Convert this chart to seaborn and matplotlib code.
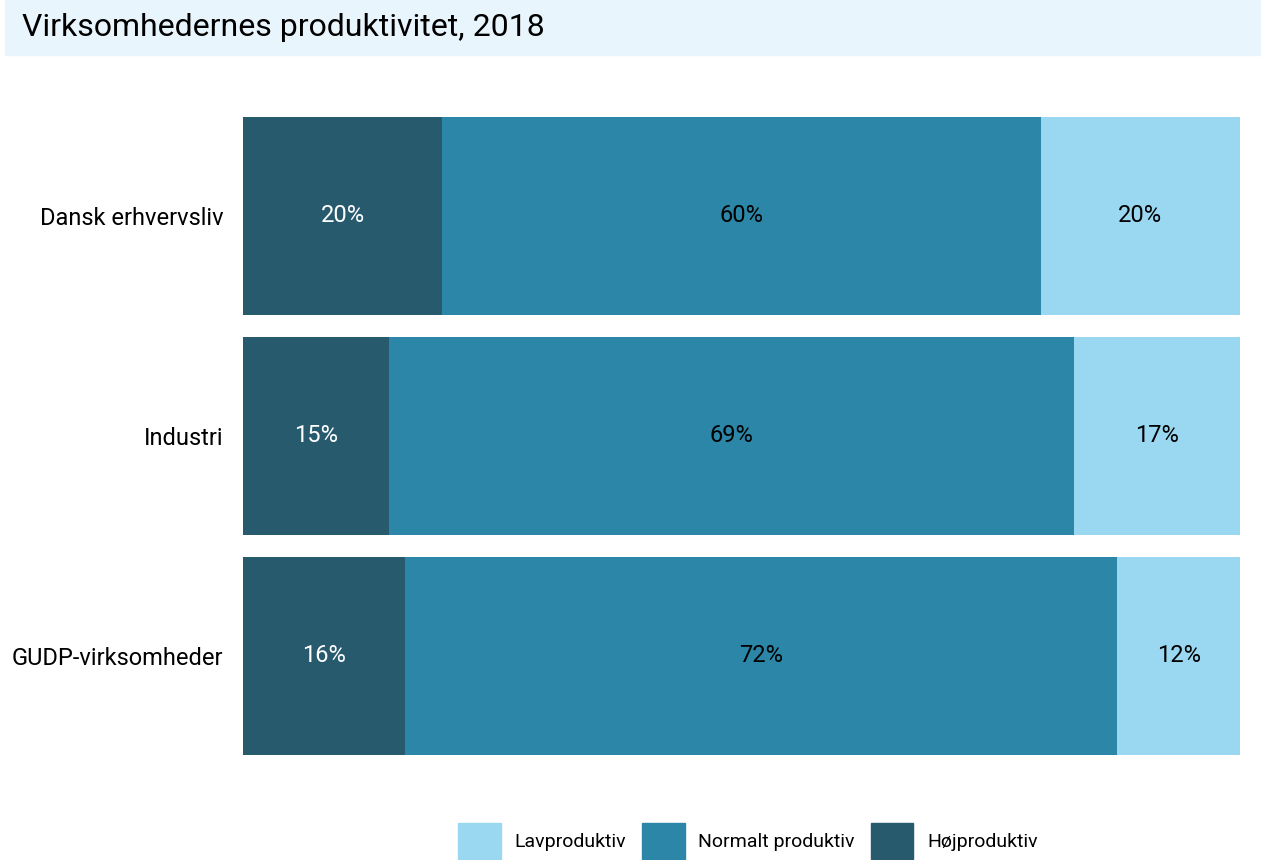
import matplotlib
matplotlib.use("Agg")
import matplotlib.pyplot as plt
from matplotlib.patches import Patch, Rectangle
import numpy as np
import pandas as pd
import seaborn as sns

# data (shares in %)
categories = ["Dansk erhvervsliv", "Industri", "GUDP-virksomheder"]
hoej = [20.0, 14.6, 16.2]
normal = [60.0, 68.8, 71.5]
lav = [20.0, 16.6, 12.3]
labels_hoej = ["20%", "15%", "16%"]
labels_normal = ["60%", "69%", "72%"]
labels_lav = ["20%", "17%", "12%"]

C_LAV = "#9AD8F2"
C_NORMAL = "#2B86A8"
C_HOEJ = "#285A6E"

sns.set_theme(style="white")
plt.rcParams["font.family"] = ["Roboto", "DejaVu Sans"]

df = pd.DataFrame({"cat": categories, "hoej": hoej, "normal": normal, "lav": lav})
df["c1"] = df["hoej"]
df["c2"] = df["hoej"] + df["normal"]
df["c3"] = df["c2"] + df["lav"]

fig = plt.figure(figsize=(12.61, 8.60), dpi=100)
ax = fig.add_axes([243 / 1261, 1 - 766 / 860, (1240 - 243) / 1261, 660 / 860])

# stacked bars drawn as overlapping cumulative bars
for col, color in [("c3", C_LAV), ("c2", C_NORMAL), ("c1", C_HOEJ)]:
    sns.barplot(data=df, x=col, y="cat", orient="h", color=color, width=0.9,
                saturation=1, ax=ax, linewidth=0)

for i in range(len(df)):
    r = df.iloc[i]
    ax.text(r["hoej"] / 2, i, labels_hoej[i], ha="center", va="center",
            color="white", fontsize=17)
    ax.text(r["hoej"] + r["normal"] / 2, i, labels_normal[i], ha="center",
            va="center", color="black", fontsize=17)
    ax.text(r["c2"] + r["lav"] / 2, i, labels_lav[i], ha="center", va="center",
            color="black", fontsize=17)

ax.set_xlim(0, df["c3"].max())
ax.set_ylim(2.5, -0.5)
ax.set_xlabel("")
ax.set_ylabel("")
ax.set_xticks([])
ax.tick_params(axis="y", length=0, pad=14, labelsize=17, labelcolor="black")
for s in ax.spines.values():
    s.set_visible(False)

# title band
fig.patches.append(Rectangle((5 / 1261, 1 - 55 / 860), 1, 55 / 860,
                             transform=fig.transFigure, color="#E8F5FC", zorder=0))
fig.text(22 / 1261, 1 - 28 / 860, "Virksomhedernes produktivitet, 2018",
         fontsize=23, va="center", ha="left", color="black")

handles = [Patch(color=C_LAV, label="Lavproduktiv"),
           Patch(color=C_NORMAL, label="Normalt produktiv"),
           Patch(color=C_HOEJ, label="Højproduktiv")]
fig.legend(handles=handles, loc="center", bbox_to_anchor=(748 / 1261, 1 - 841 / 860),
           ncol=3, frameon=False, fontsize=14, handlelength=2.2, handleheight=2.5,
           handletextpad=0.7, columnspacing=0.8, labelcolor="black",
           borderpad=0.0)

fig.savefig("out.png", dpi=100)
